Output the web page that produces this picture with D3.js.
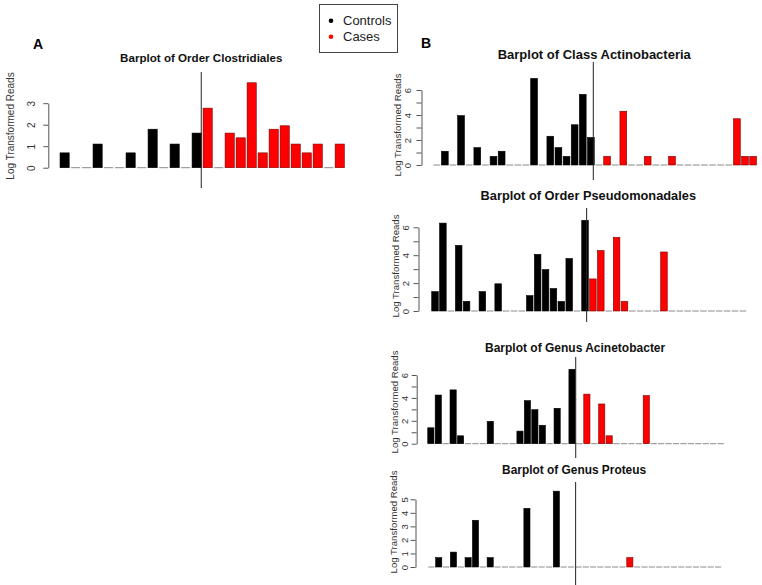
<!DOCTYPE html>
<html>
<head>
<meta charset="utf-8">
<script src="https://cdn.jsdelivr.net/npm/d3@7/dist/d3.min.js"></script>
<style>
  body { margin: 0; background: #fff; }
  svg { display: block; font-family: "Liberation Sans", Arial, sans-serif; }
</style>
</head>
<body>
<svg id="chart" width="762" height="585"></svg>
<script>
// log transformed reads, one value per subject
const clostridialesControls = [0.69, 0, 0, 1.1, 0, 0, 0.69, 0, 1.79, 0, 1.1, 0, 1.61];
const clostridialesCases = [2.77, 0, 1.61, 1.39, 3.95, 0.69, 1.79, 1.95, 1.1, 0.69, 1.1, 0, 1.1];

const actinoControls = [0, 1.1, 0, 3.95, 0, 1.39, 0, 0.69, 1.1, 0, 0, 0, 6.93, 0, 2.3, 1.39, 0.69, 3.22, 5.65, 2.2];
const actinoCases = [0, 0.69, 0, 4.3, 0, 0, 0.69, 0, 0, 0.69, 0, 0, 0, 0, 0, 0, 0, 3.7, 0.69, 0.69];

const pseudoControls = [1.39, 6.3, 0, 4.7, 0.69, 0, 1.39, 0, 1.95, 0, 0, 0, 1.1, 4.06, 2.97, 1.61, 0.69, 3.76, 0, 6.5];
const pseudoCases = [2.3, 4.33, 0, 5.28, 0.69, 0, 0, 0, 0, 4.23, 0, 0, 0, 0, 0, 0, 0, 0, 0, 0];

const acinetoControls = [1.39, 4.25, 0, 4.7, 0.69, 0, 0, 0, 1.95, 0, 0, 0, 1.1, 3.76, 2.97, 1.61, 0, 3.09, 0, 6.5];
const acinetoCases = [0, 4.33, 0, 3.47, 0.69, 0, 0, 0, 0, 4.2, 0, 0, 0, 0, 0, 0, 0, 0, 0, 0];

const proteusControls = [0, 0.69, 0, 1.1, 0, 0.69, 3.45, 0, 0.69, 0, 0, 0, 0, 4.33, 0, 0, 0, 5.6, 0, 0];
const proteusCases = [0, 0, 0, 0, 0, 0, 0, 0.69, 0, 0, 0, 0, 0, 0, 0, 0, 0, 0, 0, 0];

const ticksSmall = [0, 1, 2, 3];
const ticksSix = [0, 1, 2, 3, 4, 5, 6];
const labelsSix = [0, 2, 4, 6];
const ticksFive = [0, 1, 2, 3, 4, 5];

const legendLabels = ['Controls', 'Cases'];
const groupColors = ['#000000', '#ff0000'];
const yTitle = 'Log Transformed Reads';

// layout of each barplot (pixels)
const panels = [
  { title: 'Barplot of Order Clostridiales', controls: clostridialesControls, cases: clostridialesCases,
    ticks: ticksSmall, labels: ticksSmall, split: 15.6,
    left: 58.2, right: 344.3, base: 167.7, top: 103.2, axisX: 48.3, labelX: 31.7, fontSize: 10,
    yTitleX: 10, yTitleY: 126, titleY: 62, titleSize: 11.6, lineY: [72, 188] },
  { title: 'Barplot of Class Actinobacteria', controls: actinoControls, cases: actinoCases,
    ticks: ticksSix, labels: labelsSix, split: 23.86,
    left: 432, right: 756.5, base: 165, top: 90, axisX: 421.5, labelX: 408, fontSize: 9.5,
    yTitleX: 398, yTitleY: 125, titleY: 58.5, titleSize: 13, lineY: [62, 180] },
  { title: 'Barplot of Order Pseudomonadales', controls: pseudoControls, cases: pseudoCases,
    ticks: ticksSix, labels: labelsSix, split: 23.75,
    left: 430.4, right: 746.2, base: 311, top: 227.3, axisX: 418.5, labelX: 406, fontSize: 9.5,
    yTitleX: 396, yTitleY: 266, titleY: 199.5, titleSize: 12.8, lineY: [208, 322] },
  { title: 'Barplot of Genus Acinetobacter', controls: acinetoControls, cases: acinetoCases,
    ticks: ticksSix, labels: labelsSix, split: 24.1,
    left: 426.5, right: 723.7, base: 443.7, top: 375, axisX: 416.7, labelX: 405, fontSize: 9.5,
    yTitleX: 395, yTitleY: 402, titleY: 352.3, titleSize: 12, lineY: [357, 458] },
  { title: 'Barplot of Genus Proteus', controls: proteusControls, cases: proteusCases,
    ticks: ticksFive, labels: ticksFive, split: 24.25,
    left: 427.1, right: 721.1, base: 567, top: 499.3, axisX: 415.5, labelX: 404.5, fontSize: 9.5,
    yTitleX: 394, yTitleY: 522, titleY: 474, titleSize: 11.9, lineY: [482, 585] }
];

const svg = d3.select('#chart');

panels.forEach((p) =>
{
  const values = p.controls.concat(p.cases);
  const data = values.map((v, i) => ({ i, v, group: i < p.controls.length ? 0 : 1 }));
  const n = values.length;

  // R barplot: bar width 1, space 0.2 before every bar
  const x = d3.scaleBand()
    .domain(d3.range(n))
    .range([p.left, p.right])
    .paddingInner(1 / 6)
    .paddingOuter(1 / 12)
    .align(1);

  const xu = d3.scaleLinear().domain([0, n * 1.2]).range([p.left, p.right]);

  const yMax = p.ticks[p.ticks.length - 1];
  const y = d3.scaleLinear().domain([0, yMax]).range([p.base, p.top]);

  const g = svg.append('g');

  // title
  g.append('text')
    .attr('x', (p.left + p.right) / 2)
    .attr('y', p.titleY)
    .attr('text-anchor', 'middle')
    .attr('font-weight', 'bold')
    .attr('font-size', p.titleSize)
    .attr('fill', '#111')
    .text(p.title);

  // y axis
  const axis = g.append('g')
    .attr('transform', `translate(${p.axisX},0)`)
    .call(d3.axisLeft(y)
      .tickValues(p.ticks)
      .tickSize(5)
      .tickSizeOuter(0)
      .tickFormat(d => (p.labels.includes(d) ? d : '')));
  axis.select('.domain').attr('stroke', '#555');
  axis.selectAll('.tick line').attr('stroke', '#555');
  axis.selectAll('.tick text')
    .attr('transform', 'rotate(-90)')
    .attr('x', 0)
    .attr('y', -(p.axisX - p.labelX) + p.fontSize * 0.36)
    .attr('dy', 0)
    .attr('text-anchor', 'middle')
    .attr('font-size', p.fontSize)
    .attr('font-family', '"Liberation Sans", Arial, sans-serif')
    .attr('fill', '#333');

  g.append('text')
    .attr('transform', `translate(${p.yTitleX},${p.yTitleY}) rotate(-90)`)
    .attr('dy', '0.35em')
    .attr('text-anchor', 'middle')
    .attr('font-size', p.fontSize === 10 ? 10 : 9.6)
    .attr('fill', '#333')
    .text(yTitle);

  // bars (zero values show as a flat grey dash)
  g.selectAll('rect.bar')
    .data(data.filter(d => d.v > 0))
    .enter().append('rect')
    .attr('class', 'bar')
    .attr('x', d => x(d.i))
    .attr('width', x.bandwidth())
    .attr('y', d => y(d.v))
    .attr('height', d => y(0) - y(d.v))
    .attr('fill', d => groupColors[d.group])
    .attr('stroke', d => (d.group ? '#7a0000' : '#000'))
    .attr('stroke-width', 0.6);

  g.selectAll('line.zero')
    .data(data.filter(d => d.v === 0))
    .enter().append('line')
    .attr('class', 'zero')
    .attr('x1', d => x(d.i))
    .attr('x2', d => x(d.i) + x.bandwidth())
    .attr('y1', y(0))
    .attr('y2', y(0))
    .attr('stroke', '#8a8a8a')
    .attr('stroke-width', 1);

  // controls | cases divider
  g.append('line')
    .attr('x1', xu(p.split))
    .attr('x2', xu(p.split))
    .attr('y1', p.lineY[0])
    .attr('y2', p.lineY[1])
    .attr('stroke', '#222')
    .attr('stroke-width', 1);
});

// panel letters
svg.append('text').attr('x', 38).attr('y', 49).attr('text-anchor', 'middle')
  .attr('font-weight', 'bold').attr('font-size', 14).text('A');
svg.append('text').attr('x', 426).attr('y', 48).attr('text-anchor', 'middle')
  .attr('font-weight', 'bold').attr('font-size', 14).text('B');

// legend
const legend = svg.append('g');
legend.append('rect')
  .attr('x', 319.5).attr('y', 4.5).attr('width', 78).attr('height', 48)
  .attr('fill', '#fff').attr('stroke', '#444').attr('stroke-width', 1);
legend.selectAll('circle')
  .data(legendLabels)
  .enter().append('circle')
  .attr('cx', 331)
  .attr('cy', (d, i) => 20.7 + i * 16)
  .attr('r', 2.3)
  .attr('fill', (d, i) => groupColors[i]);
legend.selectAll('text')
  .data(legendLabels)
  .enter().append('text')
  .attr('x', 343)
  .attr('y', (d, i) => 20.7 + i * 16)
  .attr('dy', '0.36em')
  .attr('font-size', 13)
  .attr('fill', '#222')
  .text(d => d);
</script>
</body>
</html>
